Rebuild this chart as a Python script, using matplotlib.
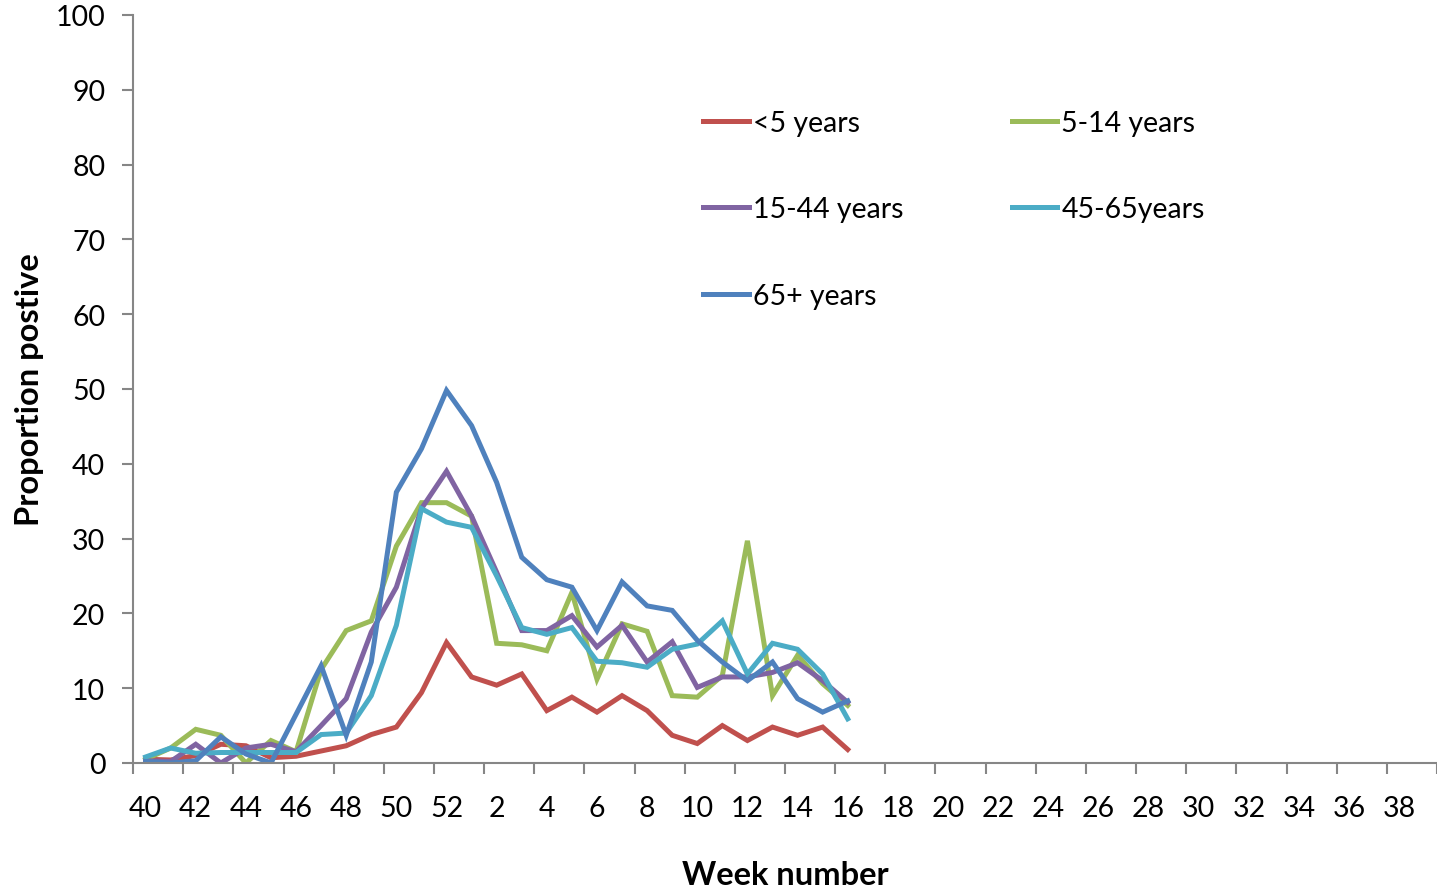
import matplotlib.pyplot as plt
from matplotlib.ticker import FixedLocator, NullFormatter

# week axis: season runs from week 40 to week 39 of next year
weeks = list(range(40, 53)) + list(range(1, 40))

# proportion positive by age group (weeks 40 .. 16)
under5 = [0.5, 0.4, 1.0, 2.5, 2.3, 0.7, 0.9, 1.6, 2.3, 3.8, 4.8, 9.4, 16.1, 11.5, 10.4, 11.9,
          7.0, 8.8, 6.8, 9.0, 7.0, 3.7, 2.6, 5.0, 3.0, 4.8, 3.7, 4.8, 1.8]
age5_14 = [0.5, 2.0, 4.5, 3.7, 0.0, 3.0, 1.5, 12.5, 17.7, 19.0, 29.0, 34.8, 34.8, 33.0, 16.0, 15.8,
           15.0, 22.8, 11.2, 18.6, 17.6, 9.0, 8.8, 11.7, 29.7, 9.0, 14.4, 10.6, 7.7]
age15_44 = [0.3, 0.2, 2.5, 0.0, 2.0, 2.5, 1.5, 5.0, 8.6, 17.5, 23.5, 34.0, 39.0, 33.0, 25.5, 17.7,
            17.7, 19.7, 15.5, 18.4, 13.5, 16.2, 10.1, 11.5, 11.5, 12.1, 13.4, 11.0, 8.1]
age45_65 = [0.8, 2.0, 1.3, 1.4, 1.4, 1.4, 1.4, 3.8, 4.0, 9.0, 18.4, 34.0, 32.2, 31.5, 25.0, 18.1,
            17.2, 18.1, 13.6, 13.4, 12.8, 15.2, 15.9, 19.0, 11.9, 16.0, 15.2, 11.9, 5.9]
age65plus = [0.2, 0.0, 0.3, 3.5, 1.2, 0.0, 6.5, 13.0, 3.7, 13.5, 36.2, 42.0, 49.8, 45.1, 37.5, 27.5,
             24.5, 23.5, 17.7, 24.2, 21.0, 20.4, 16.4, 13.5, 11.0, 13.5, 8.6, 6.8, 8.3]

labels = ['<5 years', '5-14 years', '15-44 years', '45-65years', '65+ years']
colors = ['#C0504D', '#9BBB59', '#8064A2', '#4BACC6', '#4F81BD']
series = [under5, age5_14, age15_44, age45_65, age65plus]

plt.rcParams['font.family'] = ['Lato', 'DejaVu Sans']

fig = plt.figure(figsize=(14.37, 8.87), dpi=100)
ax = fig.add_axes([0.0926, 0.1387, 0.9074, 0.8433])

lines = []
for vals, lab, col in zip(series, labels, colors):
    ln, = ax.plot(range(len(vals)), vals, color=col, lw=3.6, label=lab, solid_joinstyle='miter')
    lines.append(ln)

ax.set_xlim(-0.5, len(weeks) - 0.5)
ax.set_ylim(0, 100)
ax.set_yticks(range(0, 101, 10))

# ticks between category pairs, labels on every second week
ax.xaxis.set_major_locator(FixedLocator([i - 0.5 for i in range(0, len(weeks) + 1, 2)]))
ax.xaxis.set_major_formatter(NullFormatter())
ax.xaxis.set_minor_locator(FixedLocator(list(range(0, len(weeks), 2))))
ax.set_xticklabels([str(w) for w in weeks[::2]], minor=True)
ax.tick_params(axis='x', which='minor', length=0, pad=23, labelsize=20.5)
ax.tick_params(axis='x', which='major', length=8, width=1.5, color='#868686')
ax.tick_params(axis='y', length=8, width=1.5, color='#868686', labelsize=20.5, pad=12)

for s in ['top', 'right']:
    ax.spines[s].set_visible(False)
for s in ['left', 'bottom']:
    ax.spines[s].set_color('#868686')
    ax.spines[s].set_linewidth(1.5)

ax.set_xlabel('Week number', fontsize=23.5, fontweight='bold', labelpad=28)
ax.set_ylabel('Proportion postive', fontsize=23.5, fontweight='bold', labelpad=8)

# legend filled row by row like the original (matplotlib fills columns)
order = [0, 2, 4, 1, 3]
ax.legend([lines[i] for i in order], [labels[i] for i in order],
          loc='upper left', bbox_to_anchor=(703 / 1437, 1 - 111 / 887),
          bbox_transform=fig.transFigure, ncol=2, frameon=False,
          fontsize=20.5, handlelength=1.6, handletextpad=0.15, labelspacing=2.12,
          columnspacing=3.8, borderpad=0, borderaxespad=0)

fig.savefig('out.png', dpi=100)
